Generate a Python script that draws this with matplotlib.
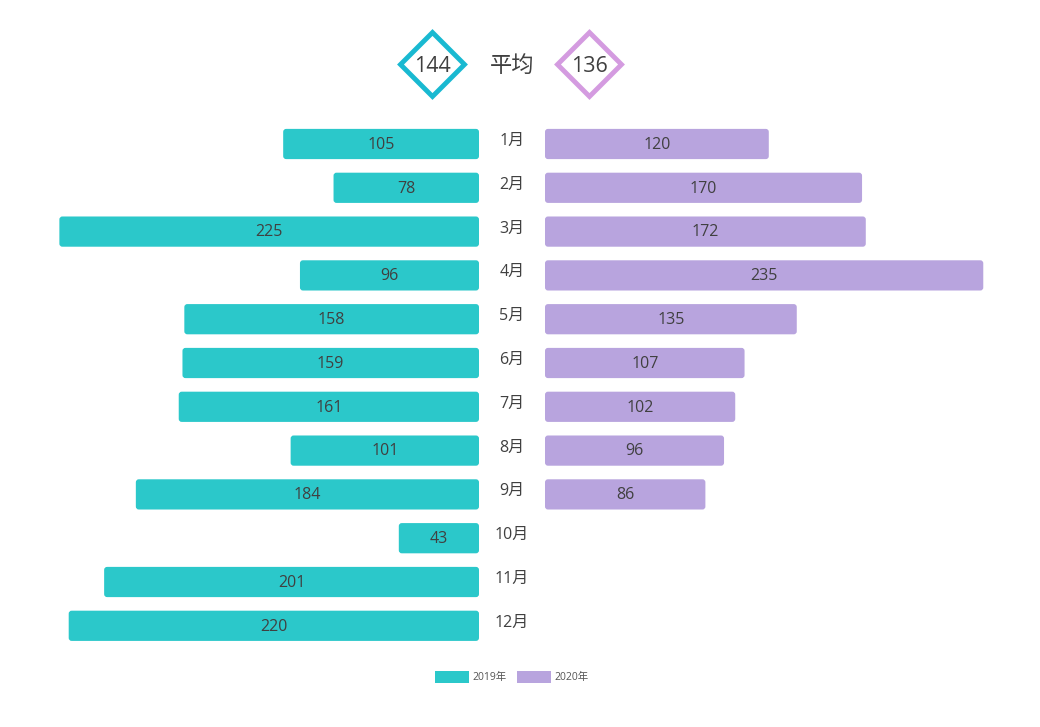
import numpy as np
import matplotlib
matplotlib.use("Agg")
import matplotlib.pyplot as plt
from matplotlib.patches import Patch, FancyBboxPatch

plt.rcParams['font.family'] = ['Open Sans', 'Noto Sans CJK SC', 'DejaVu Sans']

months = ['1月', '2月', '3月', '4月', '5月', '6月', '7月', '8月', '9月', '10月', '11月', '12月']
v2019 = [105, 78, 225, 96, 158, 159, 161, 101, 184, 43, 201, 220]
v2020 = [120, 170, 172, 235, 135, 107, 102, 96, 86]

c2019 = '#2BC8CA'
c2020 = '#B8A4DE'
txt = '#404040'

W, H = 1040, 727
fig = plt.figure(figsize=(W / 100, H / 100), dpi=100)

scale = 1.865  # px per unit
row = 43.8
top_px = 144 - row / 2
ax_h = 12 * row

# left axes: zero at x=479
lx0, lx1 = 30, 479
axL = fig.add_axes([lx0 / W, 1 - (top_px + ax_h) / H, (lx1 - lx0) / W, ax_h / H])
axL.set_xlim((lx1 - lx0) / scale, 0)
# right axes: zero at x=545
rx0, rx1 = 545, 1010
axR = fig.add_axes([rx0 / W, 1 - (top_px + ax_h) / H, (rx1 - rx0) / W, ax_h / H])
axR.set_xlim(0, (rx1 - rx0) / scale)


def round_bars(ax, bars, color):
    # swap plain rectangles for slightly rounded ones
    for b in bars:
        x, y = b.get_x(), b.get_y()
        w, h = b.get_width(), b.get_height()
        b.remove()
        ax.add_patch(FancyBboxPatch((x, y), w, h,
                                    boxstyle='round,pad=0,rounding_size=1.6',
                                    mutation_aspect=scale / row,
                                    facecolor=color, edgecolor='none'))


y1 = np.arange(len(v2019))
y2 = np.arange(len(v2020))
b1 = axL.barh(y1, v2019, height=0.69, color=c2019)
b2 = axR.barh(y2, v2020, height=0.69, color=c2020)
round_bars(axL, b1, c2019)
round_bars(axR, b2, c2020)
for y, v in zip(y1, v2019):
    axL.text(v / 2, y + 0.02, str(v), ha='center', va='center', fontsize=11.5, color=txt)
for y, v in zip(y2, v2020):
    axR.text(v / 2, y + 0.02, str(v), ha='center', va='center', fontsize=11.5, color=txt)

for ax in (axL, axR):
    ax.set_ylim(len(months) - 0.5, -0.5)
    ax.axis('off')

for i, m in enumerate(months):
    fig.text(512 / W, 1 - (141 + i * row) / H, m, ha='center', va='center',
             fontsize=11.5, color=txt)

# averages
avg19 = round(np.mean(v2019))
avg20 = round(np.mean(v2020))
axT = fig.add_axes([0, 0, 1, 1])
axT.set_xlim(0, W)
axT.set_ylim(H, 0)
axT.axis('off')
axT.plot([432], [64], marker='D', markersize=33, markerfacecolor='white',
         markeredgecolor='#19B9D1', markeredgewidth=3.5)
axT.plot([589], [64], marker='D', markersize=33, markerfacecolor='white',
         markeredgecolor='#D49BE0', markeredgewidth=3.5)
axT.text(432, 66, str(avg19), ha='center', va='center', fontsize=15.5, color=txt)
axT.text(589, 66, str(avg20), ha='center', va='center', fontsize=15.5, color=txt)
axT.text(512, 66, '平均', ha='center', va='center', fontsize=16, color=txt)

handles = [Patch(facecolor=c2019, label='2019年'), Patch(facecolor=c2020, label='2020年')]
fig.legend(handles=handles, loc='center', bbox_to_anchor=(512 / W, 1 - 677 / H), ncol=2,
           frameon=False, fontsize=7.5, handlelength=3.2, handleheight=1.4,
           handletextpad=0.4, columnspacing=1.0, labelcolor='#555555')

fig.savefig('out.png', dpi=100)
